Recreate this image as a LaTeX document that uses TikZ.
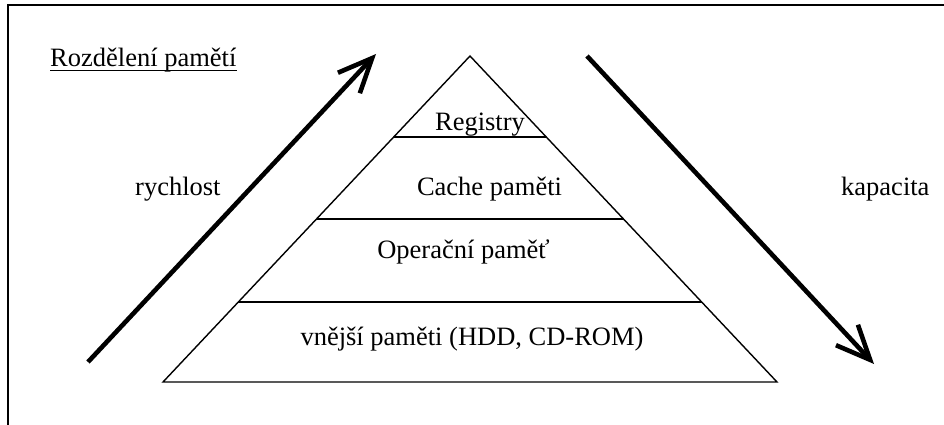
\documentclass[tikz,border=0pt]{standalone}
\usepackage{fontspec}
\setmainfont{Liberation Serif}
\usetikzlibrary{arrows.meta,calc}
\begin{document}
\begin{tikzpicture}[x=1pt,y=-1pt,
  lbl/.style={inner sep=0pt,font=\fontsize{26.5}{30}\selectfont},
  pyr/.style={line width=1.4pt,line join=miter},
  bigarrow/.style={line width=4.6pt,-{Straight Barb[length=34pt,width=30pt]}},
  frameline/.style={line width=2pt}]
\useasboundingbox (0,0) rectangle (944,425);
% frame (top and left edges)
\coordinate (f1) at (944,5.5);
\coordinate (f2) at (8,5.5);
\coordinate (f3) at (8,425);
\draw[frameline] (f1) -- (f2) -- (f3);
% title
\node[lbl,anchor=base west] (title) at (50,67) {Rozdělení pamětí};
\draw[line width=1.3pt] ([yshift=-3.5pt]title.base west) -- ([yshift=-3.5pt]title.base east);
% pyramid
\coordinate (apex) at (470,56);
\coordinate (bl) at (163,382);
\coordinate (br) at (777,382);
\draw[pyr] (apex) -- (bl) -- (br) -- cycle;
\coordinate (l1) at ($(apex)!0.2485!(bl)$);
\coordinate (r1) at ($(apex)!0.2485!(br)$);
\coordinate (l2) at ($(apex)!0.5!(bl)$);
\coordinate (r2) at ($(apex)!0.5!(br)$);
\coordinate (l3) at ($(apex)!0.7546!(bl)$);
\coordinate (r3) at ($(apex)!0.7546!(br)$);
\draw[pyr] (l1) -- (r1);
\draw[pyr] (l2) -- (r2);
\draw[pyr] (l3) -- (r3);
% level labels
\node[lbl,anchor=base] (reg) at (480,131) {Registry};
\node[lbl,anchor=base] (cache) at (489.5,195) {Cache paměti};
\node[lbl,anchor=base] (op) at (463.5,258) {Operační paměť};
\node[lbl,anchor=base] (ext) at (472,345) {vnější paměti (HDD, CD-ROM)};
% side labels
\node[lbl,anchor=base west] (speed) at (135,195) {rychlost};
\node[lbl,anchor=base west] (cap) at (841,195) {kapacita};
% arrows
\coordinate (a1s) at (88,362);
\coordinate (a1e) at (376,54);
\coordinate (a2s) at (587,56);
\coordinate (a2e) at (874,364);
\draw[bigarrow] (a1s) -- (a1e);
\draw[bigarrow] (a2s) -- (a2e);
\end{tikzpicture}
\end{document}
